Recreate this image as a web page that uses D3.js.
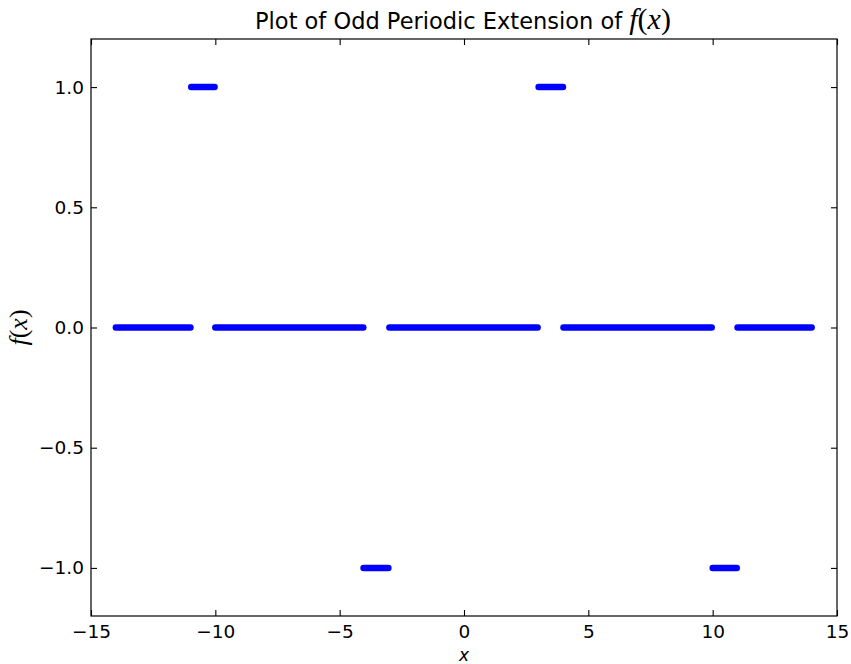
<!DOCTYPE html>
<html>
<head>
<meta charset="utf-8">
<script src="https://cdn.jsdelivr.net/npm/d3@7"></script>
<style>
  body { margin: 0; background: #fff; }
  text { font-family: "DejaVu Sans", sans-serif; }
</style>
</head>
<body>
<div id="chart"></div>
<script>
// pieces of the odd periodic extension (x start, x end, value)
const zeroPieces = [[-14, -11], [-10, -4.05], [-3, 2.96], [4, 9.96], [11, 13.98]];
const onePieces = [[-10.97, -10.03], [3, 3.98]];
const negPieces = [[-4.04, -3.04], [10, 10.97]];
const xTicks = [-15, -10, -5, 0, 5, 10, 15];
const yTicks = [-1.0, -0.5, 0.0, 0.5, 1.0];

const margin = {top: 39, right: 14, bottom: 48, left: 91},
      width = 851 - margin.left - margin.right,
      height = 664 - margin.top - margin.bottom;

const svg = d3.select("#chart")
    .append("svg")
    .attr("width", 851)
    .attr("height", 664)
    .append("g")
    .attr("transform", `translate(${margin.left}, ${margin.top})`);

const x = d3.scaleLinear().domain([-15, 15]).range([0, width]);
const y = d3.scaleLinear().domain([-1.2, 1.2]).range([height, 0]);

const minus = s => s.replace("-", "\u2212");
const fx = d => minus(d3.format("d")(d));
const fy = d => minus(d3.format(".1f")(d));

// pieces as lines
const pieces = [];
zeroPieces.forEach(p => pieces.push({x0: p[0], x1: p[1], v: 0}));
onePieces.forEach(p => pieces.push({x0: p[0], x1: p[1], v: 1}));
negPieces.forEach(p => pieces.push({x0: p[0], x1: p[1], v: -1}));

svg.append("g")
    .selectAll("line")
    .data(pieces)
    .join("line")
    .attr("x1", d => x(d.x0))
    .attr("x2", d => x(d.x1))
    .attr("y1", d => y(d.v))
    .attr("y2", d => y(d.v))
    .attr("stroke", "#0000ff")
    .attr("stroke-width", 6.5)
    .attr("stroke-linecap", "round");

// axes, ticks pointing inward
function styleAxis(g, showLabels) {
    g.select(".domain").remove();
    g.selectAll(".tick line").attr("stroke", "#000").attr("stroke-width", 1.1);
    g.selectAll(".tick text").attr("fill", "#000").attr("font-size", "18.5px")
        .style("display", showLabels ? null : "none");
}

svg.append("g")
    .attr("transform", `translate(0, ${height})`)
    .call(d3.axisBottom(x).tickValues(xTicks).tickFormat(fx).tickSize(-6).tickPadding(9))
    .call(g => styleAxis(g, true));
svg.append("g")
    .call(d3.axisTop(x).tickValues(xTicks).tickSize(-6))
    .call(g => styleAxis(g, false));
svg.append("g")
    .call(d3.axisLeft(y).tickValues(yTicks).tickFormat(fy).tickSize(-6).tickPadding(7))
    .call(g => styleAxis(g, true));
svg.append("g")
    .attr("transform", `translate(${width}, 0)`)
    .call(d3.axisRight(y).tickValues(yTicks).tickSize(-6))
    .call(g => styleAxis(g, false));

// frame
svg.append("rect")
    .attr("width", width)
    .attr("height", height)
    .attr("fill", "none")
    .attr("stroke", "#000")
    .attr("stroke-width", 1.2);

// math text helper: f(x) with italic letters
function mathFx(t, size) {
    const parts = [["f", true], ["(", false], ["x", true], [")", false]];
    parts.forEach(p => {
        t.append("tspan")
            .attr("font-family", "'Liberation Serif', serif")
            .attr("font-style", p[1] ? "italic" : "normal")
            .attr("font-size", size)
            .text(p[0]);
    });
}

// title
const title = svg.append("text")
    .attr("x", width / 2 - 1)
    .attr("y", -10)
    .attr("text-anchor", "middle")
    .attr("font-size", "22.5px")
    .attr("fill", "#000");
title.append("tspan").text("Plot of Odd Periodic Extension of ");
mathFx(title, "30px");

// y label
const ylab = svg.append("text")
    .attr("transform", `translate(${-64}, ${height / 2}) rotate(-90)`)
    .attr("text-anchor", "middle")
    .attr("fill", "#000");
mathFx(ylab, "26px");

// x label
svg.append("text")
    .attr("x", width / 2)
    .attr("y", height + 44.5)
    .attr("text-anchor", "middle")
    .attr("font-family", "'Liberation Serif', serif")
    .attr("font-style", "italic")
    .attr("font-size", "17px")
    .attr("fill", "#000")
    .text("x");
</script>
</body>
</html>
